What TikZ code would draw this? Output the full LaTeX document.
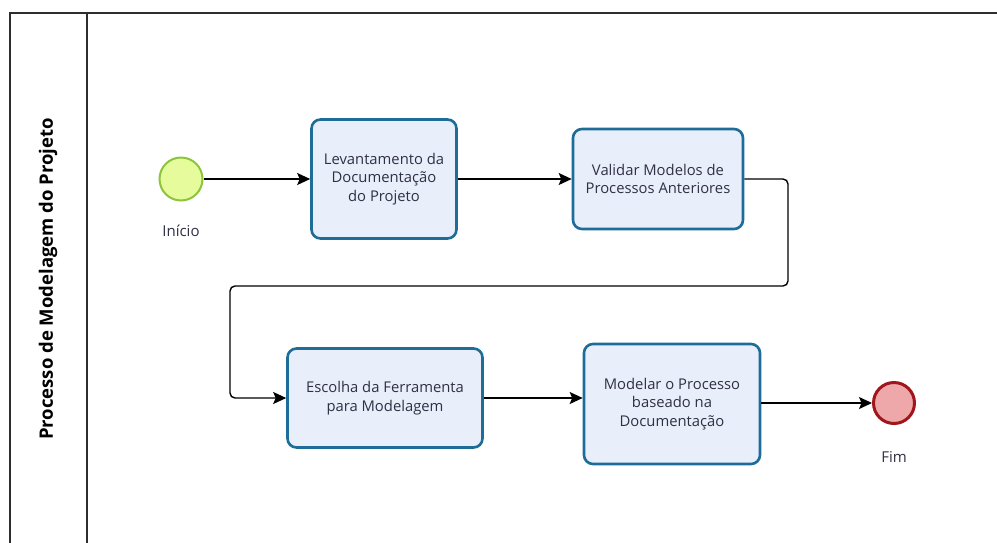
\documentclass[tikz,border=0pt]{standalone}
\usepackage{fontspec}
\setmainfont{Open Sans}
\usetikzlibrary{arrows.meta}

\definecolor{tarefafill}{HTML}{E9EEFB}
\definecolor{tarefaline}{HTML}{1E6C98}
\definecolor{iniciofill}{HTML}{E6FC9C}
\definecolor{inicioline}{HTML}{8CC43C}
\definecolor{fimfill}{HTML}{EEA8AA}
\definecolor{fimline}{HTML}{A0161C}
\definecolor{texto}{HTML}{303044}
\definecolor{raia}{HTML}{2E2E2E}

\begin{document}
\begin{tikzpicture}[x=1pt,y=-1pt,
    tarefa/.style={draw=tarefaline, line width=2.6pt, fill=tarefafill, rounded corners=9pt,
        align=center, text=texto, inner sep=0pt, font=\fontsize{14.8}{18.7}\selectfont},
    inicio/.style={circle, draw=inicioline, line width=2pt, fill=iniciofill, minimum size=43pt, inner sep=0pt},
    fim/.style={circle, draw=fimline, line width=3pt, fill=fimfill, minimum size=41pt, inner sep=0pt},
    rotulo/.style={text=texto, font=\fontsize{15}{17}\selectfont},
    fluxo/.style={-{Stealth[length=13pt,width=12pt,inset=2.5pt]}, line width=1.4pt, rounded corners=5pt}]

\useasboundingbox (0,0) rectangle (997,542);
\clip (0,0) rectangle (997,542);

% pool and lane
\draw[raia, line width=1.5pt] (10,13) rectangle (1020,570);
\draw[raia, line width=1.5pt] (87,13) -- (87,570);
\node [rotate=90, font=\bfseries\fontsize{18.5}{20}\selectfont] (P) at (48,279) {Processo de Modelagem do Projeto};

% events and tasks
\node [inicio] (S) at (181,179) {};
\node [rotulo] (Si) at (181,231) {Início};
\node [tarefa, minimum width=145pt, minimum height=119pt] (A) at (384,179)
    {Levantamento da\\Documentação\\do Projeto};
\node [tarefa, minimum width=170pt, minimum height=100pt] (B) at (658,179)
    {Validar Modelos de\\Processos Anteriores};
\node [tarefa, minimum width=195pt, minimum height=99pt] (C) at (385,398)
    {Escolha da Ferramenta\\para Modelagem};
\node [tarefa, minimum width=176pt, minimum height=120pt] (D) at (672,404)
    {Modelar o Processo\\baseado na\\Documentação};
\node [fim] (E) at (894,403) {};
\node [rotulo] (Ef) at (894,457) {Fim};

% sequence flows
\coordinate (d1) at (788,286);
\coordinate (d2) at (230,286);
\draw[fluxo] (S) -- (A);
\draw[fluxo] (A) -- (B);
\draw[fluxo] (B.east) -| (d1) -- (d2) |- (C.west);
\draw[fluxo] (C.east) -- (C.east -| D.west);
\draw[fluxo] (D.east |- E) -- (E);
\end{tikzpicture}
\end{document}
